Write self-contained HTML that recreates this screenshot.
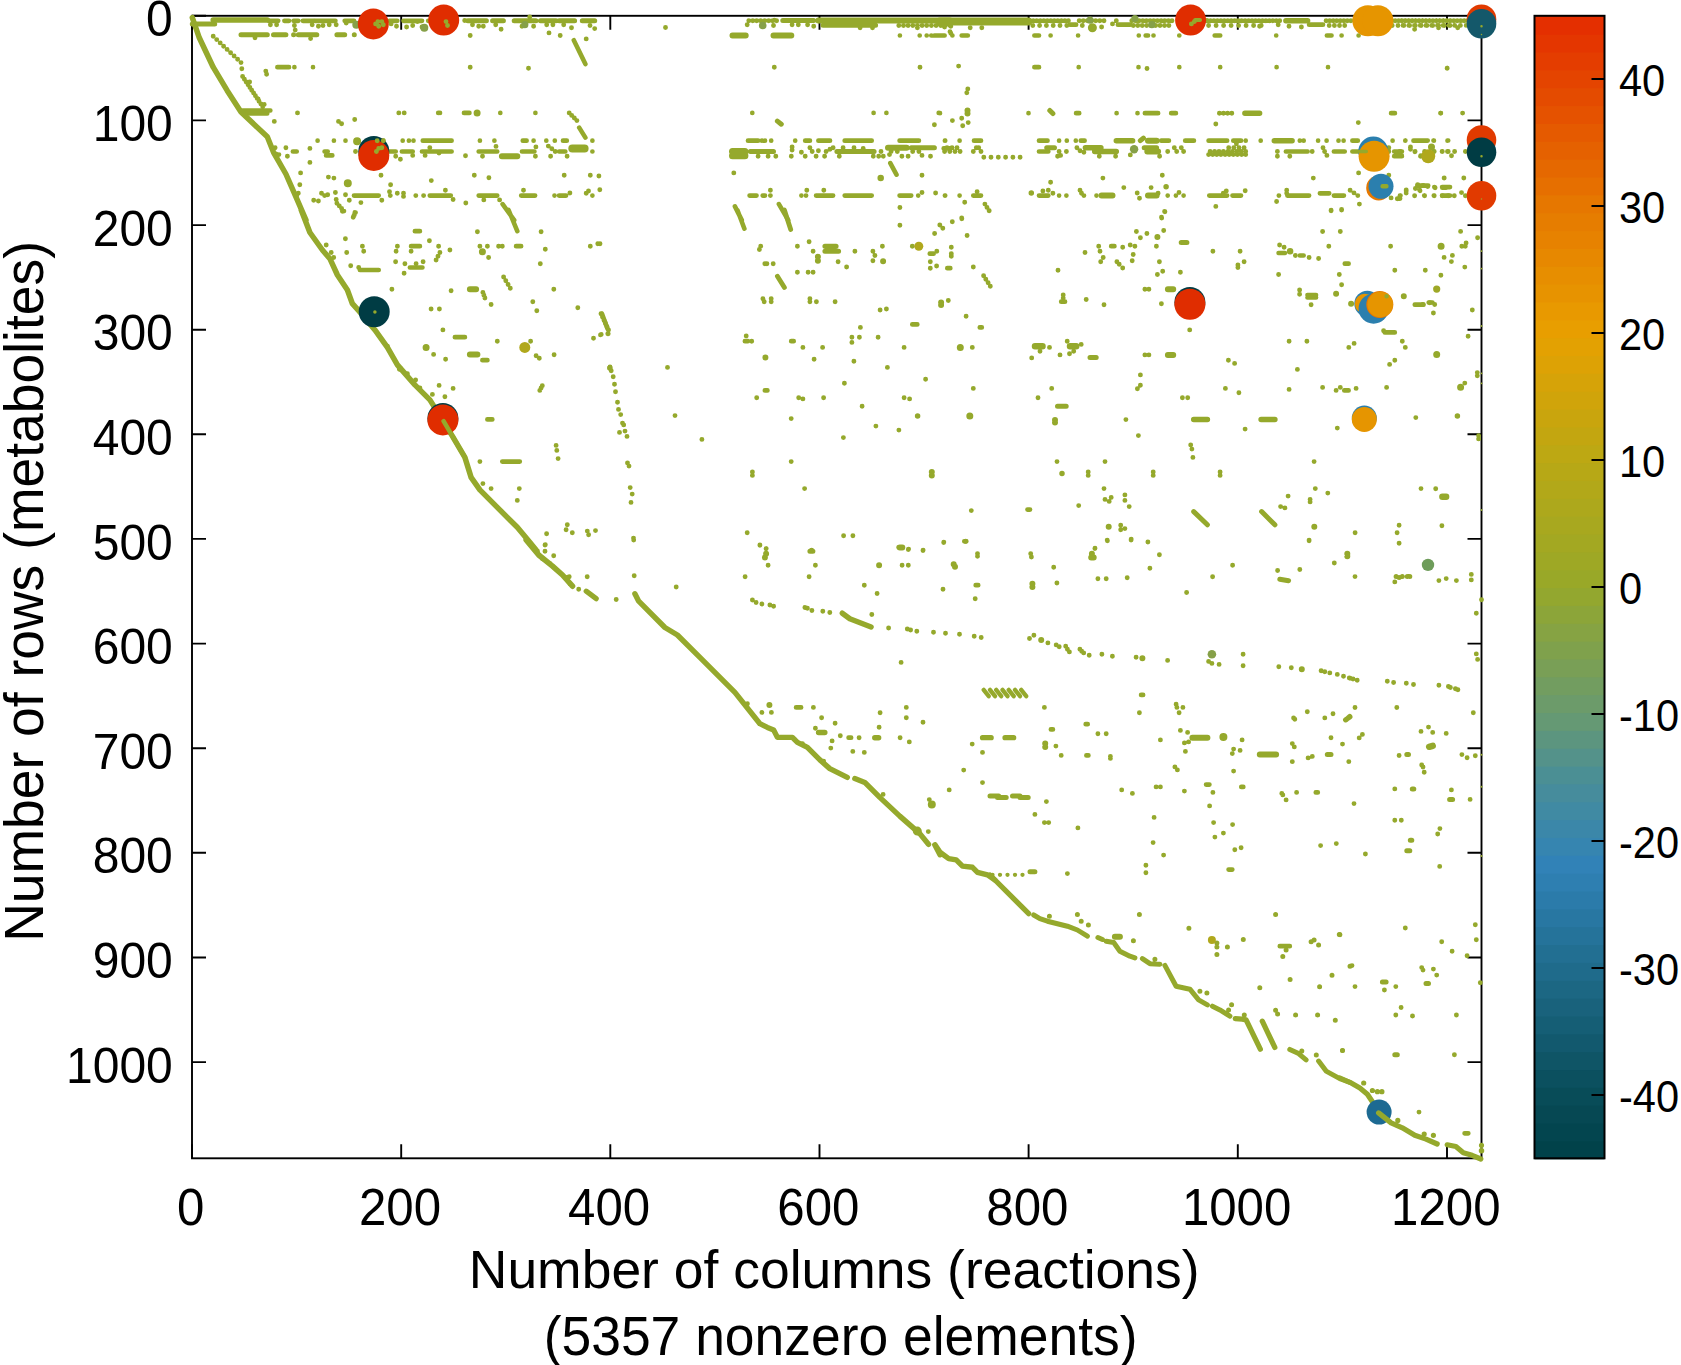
<!DOCTYPE html>
<html><head><meta charset="utf-8"><title>Sparsity pattern</title>
<style>html,body{margin:0;padding:0;background:#fff}svg{display:block}</style></head>
<body>
<svg width="1681" height="1365" viewBox="0 0 1681 1365">
<rect width="1681" height="1365" fill="#fff"/>
<rect x="1534.5" y="1140.45" width="70.0" height="18.85" fill="#01424a"/>
<rect x="1534.5" y="1122.60" width="70.0" height="18.85" fill="#03454f"/>
<rect x="1534.5" y="1104.75" width="70.0" height="18.85" fill="#064853"/>
<rect x="1534.5" y="1086.89" width="70.0" height="18.85" fill="#084c58"/>
<rect x="1534.5" y="1069.04" width="70.0" height="18.85" fill="#0b505f"/>
<rect x="1534.5" y="1051.19" width="70.0" height="18.85" fill="#0f5566"/>
<rect x="1534.5" y="1033.34" width="70.0" height="18.85" fill="#12596e"/>
<rect x="1534.5" y="1015.49" width="70.0" height="18.85" fill="#155e75"/>
<rect x="1534.5" y="997.64" width="70.0" height="18.85" fill="#19627c"/>
<rect x="1534.5" y="979.78" width="70.0" height="18.85" fill="#1c6783"/>
<rect x="1534.5" y="961.93" width="70.0" height="18.85" fill="#1f6b8b"/>
<rect x="1534.5" y="944.08" width="70.0" height="18.85" fill="#226f92"/>
<rect x="1534.5" y="926.23" width="70.0" height="18.85" fill="#25739a"/>
<rect x="1534.5" y="908.38" width="70.0" height="18.85" fill="#2877a2"/>
<rect x="1534.5" y="890.53" width="70.0" height="18.85" fill="#2b7baa"/>
<rect x="1534.5" y="872.67" width="70.0" height="18.85" fill="#2e7fb1"/>
<rect x="1534.5" y="854.82" width="70.0" height="18.85" fill="#3182b7"/>
<rect x="1534.5" y="836.97" width="70.0" height="18.85" fill="#3685b0"/>
<rect x="1534.5" y="819.12" width="70.0" height="18.85" fill="#3b87a9"/>
<rect x="1534.5" y="801.27" width="70.0" height="18.85" fill="#408aa3"/>
<rect x="1534.5" y="783.42" width="70.0" height="18.85" fill="#468c9c"/>
<rect x="1534.5" y="765.57" width="70.0" height="18.85" fill="#4b8f94"/>
<rect x="1534.5" y="747.71" width="70.0" height="18.85" fill="#54928a"/>
<rect x="1534.5" y="729.86" width="70.0" height="18.85" fill="#5c957f"/>
<rect x="1534.5" y="712.01" width="70.0" height="18.85" fill="#659974"/>
<rect x="1534.5" y="694.16" width="70.0" height="18.85" fill="#6c9b6a"/>
<rect x="1534.5" y="676.31" width="70.0" height="18.85" fill="#729d60"/>
<rect x="1534.5" y="658.46" width="70.0" height="18.85" fill="#799f56"/>
<rect x="1534.5" y="640.60" width="70.0" height="18.85" fill="#7fa14c"/>
<rect x="1534.5" y="622.75" width="70.0" height="18.85" fill="#86a343"/>
<rect x="1534.5" y="604.90" width="70.0" height="18.85" fill="#8ca539"/>
<rect x="1534.5" y="587.05" width="70.0" height="18.85" fill="#93a72f"/>
<rect x="1534.5" y="569.20" width="70.0" height="18.85" fill="#99a828"/>
<rect x="1534.5" y="551.35" width="70.0" height="18.85" fill="#9ea825"/>
<rect x="1534.5" y="533.50" width="70.0" height="18.85" fill="#a3a822"/>
<rect x="1534.5" y="515.64" width="70.0" height="18.85" fill="#a8a81f"/>
<rect x="1534.5" y="497.79" width="70.0" height="18.85" fill="#ada81c"/>
<rect x="1534.5" y="479.94" width="70.0" height="18.85" fill="#b2a819"/>
<rect x="1534.5" y="462.09" width="70.0" height="18.85" fill="#b7a816"/>
<rect x="1534.5" y="444.24" width="70.0" height="18.85" fill="#bda813"/>
<rect x="1534.5" y="426.39" width="70.0" height="18.85" fill="#c3a610"/>
<rect x="1534.5" y="408.53" width="70.0" height="18.85" fill="#c9a50d"/>
<rect x="1534.5" y="390.68" width="70.0" height="18.85" fill="#d0a40a"/>
<rect x="1534.5" y="372.83" width="70.0" height="18.85" fill="#d6a308"/>
<rect x="1534.5" y="354.98" width="70.0" height="18.85" fill="#dda205"/>
<rect x="1534.5" y="337.13" width="70.0" height="18.85" fill="#e3a102"/>
<rect x="1534.5" y="319.28" width="70.0" height="18.85" fill="#e89e00"/>
<rect x="1534.5" y="301.42" width="70.0" height="18.85" fill="#e89900"/>
<rect x="1534.5" y="283.57" width="70.0" height="18.85" fill="#e79300"/>
<rect x="1534.5" y="265.72" width="70.0" height="18.85" fill="#e78e00"/>
<rect x="1534.5" y="247.87" width="70.0" height="18.85" fill="#e78800"/>
<rect x="1534.5" y="230.02" width="70.0" height="18.85" fill="#e78200"/>
<rect x="1534.5" y="212.17" width="70.0" height="18.85" fill="#e67d00"/>
<rect x="1534.5" y="194.32" width="70.0" height="18.85" fill="#e67700"/>
<rect x="1534.5" y="176.46" width="70.0" height="18.85" fill="#e66f00"/>
<rect x="1534.5" y="158.61" width="70.0" height="18.85" fill="#e56800"/>
<rect x="1534.5" y="140.76" width="70.0" height="18.85" fill="#e56100"/>
<rect x="1534.5" y="122.91" width="70.0" height="18.85" fill="#e55a00"/>
<rect x="1534.5" y="105.06" width="70.0" height="18.85" fill="#e55200"/>
<rect x="1534.5" y="87.21" width="70.0" height="18.85" fill="#e44b00"/>
<rect x="1534.5" y="69.35" width="70.0" height="18.85" fill="#e44400"/>
<rect x="1534.5" y="51.50" width="70.0" height="18.85" fill="#e43d00"/>
<rect x="1534.5" y="33.65" width="70.0" height="18.85" fill="#e43600"/>
<rect x="1534.5" y="15.80" width="70.0" height="18.85" fill="#e42f00"/>
<rect x="1534.5" y="15.8" width="70.0" height="1142.5" fill="none" stroke="#000" stroke-width="2"/>
<rect x="192" y="15.8" width="1289.5" height="1142.5" fill="none" stroke="#000" stroke-width="1.9"/>
<path d="M1604.5 1095.0h-13M1604.5 968.0h-13M1604.5 841.0h-13M1604.5 714.0h-13M1604.5 587.0h-13M1604.5 460.0h-13M1604.5 333.0h-13M1604.5 206.0h-13M1604.5 79.0h-13M192.0 1158.3v-14M192.0 15.8v14M401.2 1158.3v-14M401.2 15.8v14M610.3 1158.3v-14M610.3 15.8v14M819.5 1158.3v-14M819.5 15.8v14M1028.6 1158.3v-14M1028.6 15.8v14M1237.8 1158.3v-14M1237.8 15.8v14M1447.0 1158.3v-14M1447.0 15.8v14M192 15.8h14M1481.5 15.8h-14M192 120.4h14M1481.5 120.4h-14M192 225.1h14M1481.5 225.1h-14M192 329.7h14M1481.5 329.7h-14M192 434.3h14M1481.5 434.3h-14M192 538.9h14M1481.5 538.9h-14M192 643.6h14M1481.5 643.6h-14M192 748.2h14M1481.5 748.2h-14M192 852.8h14M1481.5 852.8h-14M192 957.5h14M1481.5 957.5h-14M192 1062.1h14M1481.5 1062.1h-14" stroke="#000" stroke-width="1.9" fill="none"/>
<g fill="none" stroke="#95a92c" stroke-linecap="round" stroke-linejoin="round"><path d="M1481.5 251.1h0M1481.5 268.6h0M1481.5 326h0M1481.5 373.3h0M1481.5 383.3h0M1481.5 510h0" stroke-width="1.8"/>
<path d="M1481.5 754.8h0M1481.5 786.7h0M1481.5 856h0" stroke-width="2"/>
<path d="M983.7 689.9L988.7 696.2M990 689.9L995 696.2M996.2 689.9L1001.2 696.2M1002.5 689.9L1007.5 696.2M1008.7 689.9L1013.7 696.2M1015 689.9L1020 696.2M1021.2 689.9L1026.2 696.2M992.5 874.8h0M1000 874.8h0M1007.5 874.8h0M1015 874.8h0M1022.5 874.8h0" stroke-width="4.3"/>
<path d="M242.6 110.5L270.4 110.5M242.6 113.6L267.3 113.6M1193.1 20.5L1207 20.5M1307.4 295L1316.1 295M1307.4 297.5L1316.1 297.5" stroke-width="4.5"/>
<path d="M573.8 40.2L585.4 64.1M579.2 127.6L585.4 137.6M502.6 204.1L514.2 220.1M890.3 163.1L896.5 174.7M734.9 206.4L741.8 220.1M778.9 204.1L788.2 220.1M508.6 210L517.3 231.2M737.4 210L744.4 228.7M602 313.7L607.5 328.7" stroke-width="4.6"/>
<path d="M268.9 20.8L278.2 20.8M284.4 20.8L289 20.8M293.6 20.8L298.3 20.8M302.9 20.8L313.7 20.8M315.3 20.8L335.4 20.8M344.7 20.8L354 20.8M389.5 20.8L397.3 20.8M403.5 20.8L422 20.8M428.2 20.8L450 20.8M277.4 67.2L289 67.2M294.4 67.2h0M313 67.2h0M317.6 140.7h0M333.9 140.7h0M345.5 140.7h0M377.2 140.7h0M383.3 140.7h0M402.7 140.7h0M408.9 140.7h0M413.5 140.7h0M422.8 140.7L450 140.7M292.9 151.5L296.7 151.5M324.6 151.5L327.7 151.5M389.5 151.5L395.7 151.5M401.9 151.5L412.7 151.5M422 151.5L450 151.5M326.1 155.4L332.3 155.4M354 195.6L378.7 195.6M429.8 195.6L450 195.6M440 112.9h0M464 112.9L469.4 112.9M500.3 112.9h0M535.4 112.9h0M440 140.7L451.6 140.7M479.9 140.7h0M494.4 140.7h0M522.8 140.7L526.6 140.7M533.6 140.7h0M546.3 140.7h0M554.8 140.7h0M563 140.7L566.8 140.7M592.4 140.7h0M440 151.5L451.6 151.5M478.7 151.5L497.2 151.5M522 151.5L534.4 151.5M559.1 151.5L565.3 151.5M592.4 151.5h0M440 195.6L450.8 195.6M478.7 195.6L497.2 195.6M521.2 195.6L535.1 195.6M554.5 195.6h0M559.1 195.6L566.1 195.6M592.4 195.6h0M899.9 35.5h0M919.7 35.5h0M926.7 35.5h0M931.3 35.5h0M934.4 35.5L943.7 35.5M752.3 112.9h0M873.6 112.9h0M886.4 112.9h0M938.7 112.9h0M748 140.7L758.1 140.7M761.9 140.7h0M765 140.7h0M771.2 140.7h0M795.2 140.7h0M805.2 140.7L809.9 140.7M818.4 140.7L830 140.7M844.7 140.7L871.7 140.7M899.6 140.7L918.9 140.7M945.2 140.7h0M943.7 148.4L950 148.4M749.6 195.6L756.5 195.6M762.7 195.6L765 195.6M801.4 195.6h0M816.1 195.6L833.1 195.6M844.7 195.6L871.7 195.6M899.6 195.6L911.2 195.6M918.2 195.6h0M945.2 195.6h0M1069.9 24.7L1076.1 24.7M1117.9 24.7L1130.3 24.7M940 35.5L944.6 35.5M952.4 35.5h0M961.7 35.5L967.8 35.5M1034.4 35.5L1039 35.5M1050.6 35.5h0M1078.1 35.5h0M1138.8 35.5h0M1145.7 35.5L1148 35.5M1153.5 35.5h0M1179.3 35.5h0M1034.4 67.2L1039 67.2M1078.7 67.2h0M1138.5 67.2h0M1179.3 67.2h0M940 113.2h0M1028.5 113.2h0M1076.1 113.2L1079.2 113.2M1116.6 113.2h0M1137.5 113.2h0M1144.9 113.2L1158.1 113.2M1171.2 113.2L1175.9 113.2M944.9 140.7h0M959.6 140.7h0M974 140.7L981 140.7M1039 140.7L1047.5 140.7M1059.1 140.7h0M1066.8 140.7h0M1075.8 140.7h0M1080.8 140.7L1084.6 140.7M1161.2 140.7L1168.9 140.7M1185.2 140.7L1193.7 140.7M1039 151.5L1048.3 151.5M944.9 195.6h0M959.6 195.6h0M973.3 195.6L981 195.6M1039 195.6L1048.3 195.6M1059.1 195.6h0M1066.4 195.6h0M1096.5 195.6h0M1167.7 195.6h0M1175.9 195.6h0M1183.6 195.6h0M1309.1 24.7L1323 24.7M1214.7 35.5L1220.2 35.5M1276.2 35.5h0M1326.9 35.5L1331.5 35.5M1341.6 35.5h0M1358.6 35.5h0M1220.2 67.2h0M1276.6 67.2h0M1328 67.2h0M1391.1 113.2L1394.9 113.2M1440.6 113.2h0M1190 140.7L1193.9 140.7M1208.6 140.7L1227.1 140.7M1233.3 140.7L1241 140.7M1245.7 140.7h0M1260.7 140.7h0M1299.8 140.7h0M1303.7 140.7h0M1318.1 140.7h0M1326.6 140.7h0M1338.5 140.7h0M1343.6 140.7h0M1352.4 140.7L1357.8 140.7M1392.6 140.7h0M1405.3 140.7h0M1413.5 140.7L1427.4 140.7M1433.9 140.7h0M1447.5 140.7h0M1285.9 151.5L1307.6 151.5M1333.9 151.5L1344.7 151.5M1352.4 151.5L1366.3 151.5M1394.2 151.5L1401.9 151.5M1394.2 156.2L1401.9 156.2M1209.3 195.6L1227.1 195.6M1232.5 195.6L1241 195.6M1287.4 195.6L1309.1 195.6M1333.9 195.6L1343.9 195.6M1442.1 195.6L1450 195.6M1319.9 193.3L1329.2 193.3M1417.4 185.6L1428.2 185.6M1442.1 187.1L1450 187.1M1405.4 140.5h0M1414.6 140.5h0M1420 140.5L1427.7 140.5M1433.5 140.5h0M1448.2 140.5h0M1442.3 187.7L1446.2 187.7M414.9 231.2L419.9 231.2M411.1 246.2L419.9 246.2M516.1 246.2L521.1 246.2M359.9 270L378.7 270M409.9 267.5L422.4 267.5M454.9 337.2L464.9 337.2M482.4 360.2L487.4 360.2M487.4 419.4L492.3 419.4M502.3 461.6L519.8 461.6M929.8 253.7L933.6 253.7M947.3 268.2L950.3 268.2M912.3 324.4L917.3 324.4M979.8 327.4L981.8 327.4M744.9 341.2L747.9 341.2M791.2 341.2L793.7 341.2M764.9 390.4L767.4 390.4M898.6 547.3L902.3 547.3M964.3 541.3L966.3 541.3M1344.3 390.4L1348.6 390.4M1344.8 263.7L1348.6 263.7M1384.8 332.4L1394.8 332.4M1111.2 246.2L1114.4 246.2M1278.6 253L1284.9 253M1299.9 255.5L1303.6 255.5M1061.2 301.7L1065 301.7M1414.8 304.7L1423.5 304.7M1027.5 509.6L1030 509.6M1428.7 302.5L1432.4 302.5M796.1 707.4L801.1 707.4M848.6 737.7L851.1 737.7M1228.6 869.6L1232.3 869.6M975.7 585.2L978.2 585.2M1141.1 694.9L1143.1 694.9M1050.9 729.4L1052.9 729.4M1085.7 724.2L1087.7 724.2M1086.4 755.4L1088.4 755.4M1206.1 784.6L1209.4 784.6M1241.3 786.9L1243.3 786.9M1315.8 792.4L1317.8 792.4M1279.8 946.2L1289.8 946.2M1464.6 1133.3L1468.3 1133.3" stroke-width="4.7"/>
<path d="M784.4 210L790.7 229.5M777.4 276.2L784.4 287.5" stroke-width="4.8"/>
<path d="M270.4 24.7h0M276.6 24.7h0M312.2 24.7h0M318.4 26.2h0M323 25.5h0M329.2 24.7h0M336.2 24.7h0M346.2 23.1h0M356.3 24.7h0M391.1 23.9h0M396.5 26.2h0M406.6 27h0M412.7 25.5h0M417.4 21.6h0M422 27h0M255 37.8h0M310.6 38.6h0M294.4 25.5h0M295.2 30.1h0M213.2 36.3h0M216.7 39.6h0M220.2 42.9h0M223.6 46.2h0M227.1 49.4h0M230.6 52.7h0M234.1 56h0M237.6 59.3h0M241 62.6h0M241.8 68.8h0M242.6 76.5h0M244.4 79.3h0M246.2 82h0M248.1 84.7h0M249.9 87.5h0M251.7 90.2h0M253.6 93h0M255.4 95.7h0M257.2 98.4h0M259 101.2h0M260.9 103.9h0M262.7 106.7h0M249.6 81.9h0M258.1 98.9h0M264.2 104.4h0M297.5 112.9h0M274.3 121.4h0M398.8 112.9h0M404.2 112.9h0M438.3 112.9h0M338.5 121.4h0M341.6 123.7h0M354.7 119.5h0M265.8 71.1h0M266.6 74.2h0M275.1 147.7h0M275.8 153.9h0M285.9 147.7h0M287.4 156.2h0M309.9 148.4h0M309.9 162.4h0M355.5 151.5h0M395.7 156.2h0M400.4 159.3h0M278.9 154.6h0M412.7 155.4h0M425.1 155.4h0M439 153.1h0M429.8 147.7h0M313.7 200.3h0M318.4 201h0M321.5 193.3h0M324.6 195.6h0M327.7 194.8h0M335.4 192.5h0M336.2 199.5h0M345.5 194.8h0M349.3 200.3h0M360.9 202.6h0M381.8 200.3h0M389.5 191.7h0M390.3 195.6h0M397.3 193.3h0M403.5 193.3h0M403.5 196.4h0M415.8 195.6h0M423.6 195.6h0M300.6 172.9h0M299.8 184.8h0M328.4 177.1h0M333.9 178.1h0M381 175.2h0M390.6 184.8h0M431.3 180.6h0M298.3 193.3h0M296.7 195.6h0M336.9 203.3h0M339.3 205.9h0M341.6 208.5h0M343.9 211.1h0M355.5 212.6h0M354.3 214.9h0M353.2 217.3h0M464.7 20.5h0M478.7 26.2h0M483.3 26.2h0M501.1 29.3h0M522 26.2h0M533.6 26.2h0M571.5 27.8h0M590 25.5h0M594.7 28.6h0M472.5 24.7h0M495.7 24.7h0M546.7 24.7h0M552.9 24.7h0M563.7 24.7h0M529.7 17h0M470.2 35.5h0M549 32.9h0M560.2 35.5h0M586.2 38.9h0M665.5 27.5h0M470.2 67.2h0M528.5 68.3h0M569.2 112.9h0M571.7 115.4h0M574.3 118h0M576.9 120.6h0M465.5 155.7h0M482.5 156.2h0M496 146.4h0M535.9 146.9h0M535.4 156.2h0M550.6 156.2h0M567.1 156.2h0M548.3 146.1h0M551.8 148.8h0M555.2 151.5h0M474.3 175.2h0M488.9 177.8h0M564.2 175.2h0M590.3 175.2h0M598.9 176h0M445.4 190.2h0M453.1 199.5h0M465.8 203h0M483.8 199.9h0M499.6 199.9h0M523.5 190.2h0M569.9 193h0M588.5 191h0M586.2 193.3h0M599.8 189.7h0M748.8 20.8h0M752.8 20.8h0M756.7 20.8h0M760.7 20.8h0M764.7 20.8h0M768.7 20.8h0M772.6 20.8h0M776.6 20.8h0M747.2 24.7h0M773.5 25.5h0M774.3 20.1h0M898.8 25.5h0M903.5 25.5h0M908.1 25.5h0M912.8 25.5h0M917.4 25.5h0M922.1 25.5h0M926.7 25.5h0M931.4 25.5h0M936.1 25.5h0M940.7 25.5h0M945.4 25.5h0M950 25.5h0M792.1 24.7h0M798.3 24.7h0M807.6 24.7h0M813.7 26.2h0M917.4 27.8h0M872.5 27.8h0M860.1 27.8h0M950 31.7h0M774.3 67.2h0M920 67.2h0M934.4 124.8h0M758.1 156.2h0M768.1 156.2h0M775.8 156.2h0M792.1 146.9h0M792.1 150h0M791.3 156.2h0M801.4 152.3h0M805.2 156.2h0M809.9 147.7h0M812.2 151.5h0M816.1 156.2h0M818.4 150.8h0M824.6 156.2h0M826.1 151.5h0M830 149.2h0M833.1 147.7h0M839.3 156.2h0M873.3 156.2h0M843.1 147.7h0M878.7 156.2h0M881 151.5h0M883.3 156.2h0M889.5 154.6h0M901.9 156.2h0M908.1 156.2h0M922 155.4h0M930.5 156.2h0M891.1 151.5h0M897.3 151.5h0M912.7 151.5h0M918.9 151.5h0M854 147.7h0M863.2 148.4h0M733.8 172.9h0M922 175.2h0M770.4 190.2h0M770.4 195.6h0M806.8 190.2h0M806 195.6h0M823.8 190.2h0M922 192.5h0M935.6 193h0M899.9 207.5h0M1029.7 20.8h0M1033.2 20.8h0M1036.7 20.8h0M1040.3 20.8h0M1043.8 20.8h0M1047.3 20.8h0M1050.8 20.8h0M1054.3 20.8h0M1057.8 20.8h0M1061.4 20.8h0M1064.9 20.8h0M1068.4 20.8h0M1032.8 25.5h0M1039.6 25.5h0M1046.4 25.5h0M1053.2 25.5h0M1060 25.5h0M1066.8 25.5h0M1079.2 20.8h0M1083.3 20.8h0M1087.5 20.8h0M1091.6 20.8h0M1095.7 20.8h0M1099.8 20.8h0M1104 20.8h0M1082.3 25.5h0M1101.6 27h0M1112.5 23.9h0M1116.3 20.8h0M1131.8 20.8h0M1135.5 20.8h0M1139.1 20.8h0M1142.8 20.8h0M1146.4 20.8h0M1150.1 20.8h0M1153.7 20.8h0M1157.4 20.8h0M1161.1 20.8h0M1164.7 20.8h0M1168.4 20.8h0M1172 20.8h0M1133.3 25.5h0M1137.8 25.5h0M1142.2 25.5h0M1146.7 25.5h0M1151.1 25.5h0M1155.6 25.5h0M1160 25.5h0M1164.5 25.5h0M1168.9 25.5h0M944.6 27h0M950.8 26.2h0M970.2 27.8h0M981.8 27.8h0M950.8 33.2h0M958.6 66.1h0M1147 68.5h0M967.8 88.9h0M966.8 92.8h0M952.4 120.6h0M961.7 118.3h0M968.2 122.6h0M962.7 125.7h0M944.6 151.5h0M949.8 151.5h0M955 151.5h0M960.1 151.5h0M947 147.7h0M952 147.7h0M957 147.7h0M973.3 151.5h0M981 151.5h0M976.3 147.7h0M978.7 147.7h0M983.8 157.3h0M991 157.3h0M998.3 157.3h0M1005.6 157.3h0M1012.9 157.3h0M1020.1 157.3h0M1059.1 151.5h0M1057.6 156.2h0M1060.6 155.4h0M1066.4 151.5h0M1076.9 147.7h0M1080 150.8h0M1083.9 152.3h0M1099.3 156.2h0M1115.6 156.2h0M1130.3 154.9h0M1159.6 156.2h0M1167.7 151.5h0M1174.3 147.7h0M1176.7 151.5h0M1181.3 147.7h0M1183.6 151.5h0M1102.9 178.1h0M1050.6 182.2h0M1162.3 175.2h0M1123.8 187.6h0M1151.1 187.6h0M977.1 191.7h0M1042.9 191h0M1048.3 190.2h0M1052.9 193.3h0M1080 190.2h0M1081.5 193.3h0M1083.9 195.6h0M1137.2 193h0M1139.5 198.2h0M1158.1 193.3h0M1179 192.5h0M964.7 202.3h0M961.7 218h0M1164.6 211.5h0M1161.5 217.3h0M984.9 204.1h0M987 207.4h0M989.2 210.8h0M1207 20.8h0M1210.5 20.8h0M1213.9 20.8h0M1217.4 20.8h0M1220.9 20.8h0M1224.3 20.8h0M1227.8 20.8h0M1231.2 20.8h0M1234.7 20.8h0M1238.2 20.8h0M1241.6 20.8h0M1245.1 20.8h0M1248.6 20.8h0M1252 20.8h0M1255.5 20.8h0M1258.9 20.8h0M1262.4 20.8h0M1265.9 20.8h0M1269.3 20.8h0M1272.8 20.8h0M1276.3 20.8h0M1279.7 20.8h0M1208.6 25.5h0M1216.1 25.5h0M1223.6 25.5h0M1231.1 25.5h0M1238.6 25.5h0M1246.1 25.5h0M1253.6 25.5h0M1261.2 25.5h0M1326.1 20.8h0M1329.7 20.8h0M1333.2 20.8h0M1336.7 20.8h0M1340.3 20.8h0M1343.8 20.8h0M1347.3 20.8h0M1350.9 20.8h0M1329.2 25.5h0M1334.4 25.5h0M1339.5 25.5h0M1344.7 25.5h0M1278.2 24.7h0M1289 26.2h0M1301.4 27h0M1259.6 26.2h0M1384.9 20.8h0M1388.3 20.8h0M1391.8 20.8h0M1395.2 20.8h0M1398.6 20.8h0M1402 20.8h0M1405.5 20.8h0M1408.9 20.8h0M1412.3 20.8h0M1415.7 20.8h0M1419.2 20.8h0M1422.6 20.8h0M1426 20.8h0M1429.5 20.8h0M1432.9 20.8h0M1436.3 20.8h0M1439.7 20.8h0M1443.2 20.8h0M1446.6 20.8h0M1450 20.8h0M1386.4 25.5h0M1392.2 25.5h0M1398 25.5h0M1403.8 25.5h0M1409.6 25.5h0M1415.3 25.5h0M1421.1 25.5h0M1426.9 25.5h0M1432.7 25.5h0M1438.5 25.5h0M1444.2 25.5h0M1450 25.5h0M1447.1 68.3h0M1219.4 113.2h0M1223.5 113.2h0M1227.6 113.2h0M1231.8 113.2h0M1215.8 124h0M1358.3 122.6h0M1236.4 143.8h0M1208.6 154.6h0M1212.7 154.6h0M1216.8 154.6h0M1220.9 154.6h0M1225.1 154.6h0M1229.2 154.6h0M1233.3 154.6h0M1237.4 154.6h0M1241.6 154.6h0M1245.7 154.6h0M1210.1 151.5h0M1214.6 151.5h0M1219 151.5h0M1223.4 151.5h0M1227.9 151.5h0M1232.3 151.5h0M1236.8 151.5h0M1241.2 151.5h0M1245.7 151.5h0M1228.7 147.7h0M1233.8 147.7h0M1239 147.7h0M1244.1 147.7h0M1277.4 151.5h0M1277.4 156.2h0M1289.8 156.2h0M1312.2 151.5h0M1323 147.7h0M1324.6 151.5h0M1326.9 155.4h0M1388.8 147.7h0M1388.8 151.5h0M1410.4 147.7h0M1415.1 151.5h0M1420.5 156.2h0M1431.3 146.9h0M1433.6 151.5h0M1442.1 151.5h0M1447.5 151.5h0M1358.6 172.9h0M1313.3 178.1h0M1388.8 175.2h0M1444.1 178.1h0M1226.3 191h0M1223.3 193.3h0M1245.2 190.7h0M1278.9 195.6h0M1276.6 201.5h0M1286.7 190.2h0M1286.7 193.3h0M1350.1 190.2h0M1354 192.9h0M1357.8 195.6h0M1391.1 197.9h0M1397.3 198.7h0M1400.4 195.6h0M1406.2 191h0M1414.6 195.6h0M1419.7 190.2h0M1424.3 195.6h0M1434.4 187.1h0M1433.9 195.6h0M1215.8 206.4h0M1359.4 204.1h0M1331.1 210.3h0M1341.6 209.5h0M1401.5 20.8h0M1405 20.8h0M1408.5 20.8h0M1412 20.8h0M1415.5 20.8h0M1418.9 20.8h0M1422.4 20.8h0M1425.9 20.8h0M1429.4 20.8h0M1432.9 20.8h0M1436.4 20.8h0M1439.8 20.8h0M1443.3 20.8h0M1446.8 20.8h0M1450.3 20.8h0M1453.8 20.8h0M1457.2 20.8h0M1460.7 20.8h0M1464.2 20.8h0M1467.7 20.8h0M1403.1 25.4h0M1408.8 25.4h0M1414.5 25.4h0M1420.3 25.4h0M1426 25.4h0M1431.7 25.4h0M1437.5 25.4h0M1443.2 25.4h0M1449 25.4h0M1454.7 25.4h0M1460.4 25.4h0M1466.2 25.4h0M1414.6 29.2h0M1438.5 27.7h0M1457.7 27.7h0M1447.2 68.2h0M1440.8 113.1h0M1462.6 113.1h0M1400 151.5h0M1401.5 155.4h0M1410.5 146.9h0M1410.5 149.2h0M1414.9 151.8h0M1420.8 155.8h0M1424.6 151.5h0M1434.2 151.5h0M1442.3 151.5h0M1448.2 151.5h0M1451.5 155.8h0M1454.6 151.5h0M1465.4 151.5h0M1444.2 178h0M1463.8 178h0M1406.2 190h0M1406.2 193.1h0M1415.4 188.5h0M1417.7 184.6h0M1423.1 185.4h0M1420 190.8h0M1427.7 186.6h0M1435.1 187.7h0M1400 195.8h0M1400 198.5h0M1414.6 195.8h0M1424.6 195.8h0M1434.2 195.8h0M1442.3 195.8h0M1448.2 195.8h0M1454.3 195.8h0M1461.5 192.6h0M1465.4 195.8h0M601 313.7h0M602.5 316.9h0M604 320.2h0M605.5 323.4h0M607 326.7h0M608.5 329.9h0M342.4 211.2h0M353.7 216.2h0M354.9 212.5h0M477.4 231.7h0M541.1 231.7h0M345.4 238.7h0M429.4 240.7h0M597.8 243.7h0M590.3 246.2h0M362.4 246.2h0M363.7 251.2h0M346.7 252.5h0M397.4 246.2h0M396.1 251.2h0M411.1 251.2h0M438.6 246.2h0M449.9 250h0M479.9 246.2h0M487.4 246.2h0M488.6 257.5h0M498.6 246.2h0M502.3 246.2h0M545.3 249.2h0M540.3 263.7h0M439.9 252.5h0M438 256.2h0M436.1 260h0M350.7 265.7h0M358.7 267.5h0M395.6 261.7h0M404.9 263.7h0M404.1 273.2h0M416.1 263.7h0M423.1 261.7h0M503.6 277h0M505.8 280.7h0M508.1 284.5h0M510.3 288.2h0M391.9 289.2h0M451.1 290.7h0M491.1 304.5h0M553.8 289.2h0M532.8 301.7h0M536.8 310.7h0M577.8 307.7h0M482.9 292.5h0M483.9 295.2h0M484.9 298h0M431.1 309h0M439.4 309h0M442.9 329.9h0M497.3 341.2h0M530.6 341.2h0M433.6 354.4h0M445.6 359.2h0M536.1 355.7h0M539.3 358.2h0M554.1 354.7h0M593.5 338.2h0M600.5 334.9h0M607.8 333.7h0M439.1 385.4h0M453.1 388.4h0M444.9 396.7h0M542.3 385.7h0M541.1 388h0M539.8 390.4h0M556.1 445.4h0M556.8 450.4h0M558.1 458.6h0M479.9 461.6h0M482.9 483.6h0M491.1 488.6h0M519.3 488.6h0M517.3 500.4h0M567.3 524.8h0M566.1 529.8h0M572.3 532.8h0M587.3 531.1h0M588.6 534.8h0M595.5 530.6h0M546.6 533.8h0M545.3 544.8h0M326.2 245h0M331.2 252.5h0M333.7 257.5h0M387.4 346.2h0M407.4 373.7h0M415.6 379.9h0M419.9 387.9h0M432.4 394.4h0M983.6 275.7h0M985.8 279.2h0M988.1 282.7h0M990.3 286.2h0M610 366.9h0M611.2 370.7h0M613.2 376.7h0M614.5 384.2h0M615.5 391.7h0M617.5 402.2h0M618.5 409.4h0M620.7 414.6h0M622.5 423.1h0M623.7 424.9h0M625 431.1h0M627 436.4h0M627.5 462.9h0M629 466.1h0M630.2 487.6h0M632.2 494.1h0M631 502.4h0M633.5 538.1h0M600 243.7h0M601.2 334.4h0M608.2 333.7h0M619.5 432.4h0M989.1 210.7h0M961.8 218.7h0M952.3 221.7h0M939.8 225h0M942.8 228.2h0M899.9 225.2h0M934.6 233.5h0M967.1 235.5h0M760.7 246.2h0M759.4 249.5h0M797.4 246.2h0M809.1 241.7h0M813.1 251.2h0M838.1 261.7h0M846.6 267h0M854.9 251.2h0M872.9 251.2h0M874.9 255.5h0M872.9 260.7h0M882.4 246.2h0M912.3 246.2h0M936.8 251.2h0M951.3 247.2h0M951.3 253.7h0M951.3 256.2h0M930.3 261.7h0M930.3 268.2h0M936.6 266h0M973.3 267h0M764.9 263.7h0M766.9 263.7h0M773.2 263.7h0M797.4 272.2h0M808.1 272.2h0M813.1 272.2h0M762.9 298.7h0M764.2 301.7h0M771.2 298.7h0M771.2 301.7h0M809.9 298.7h0M809.9 301.7h0M816.4 301.7h0M835.1 301.7h0M880.1 310h0M886.4 309h0M948.3 300.5h0M966.1 316.2h0M860.4 327.4h0M746.2 335.9h0M751.7 341.2h0M802.9 347.4h0M822.6 347.4h0M851.9 337.2h0M851.9 342.4h0M859.4 337.2h0M878.1 337.2h0M904.1 347.4h0M972.3 347.4h0M814.1 359.2h0M853.9 361.2h0M667.5 367.4h0M887.4 367.4h0M925.6 379.2h0M844.4 383.2h0M973.3 388.4h0M756.7 397.7h0M798.7 397.7h0M802.9 398.9h0M823.6 397.7h0M904.1 397.7h0M909.6 398.9h0M862.1 406.2h0M675 415.6h0M791.2 418.6h0M875.9 426.1h0M898.9 430.1h0M843.4 437.6h0M701.9 439.4h0M791.2 461.6h0M752.4 471.9h0M752.4 475.4h0M804.6 488.6h0M971.3 510.6h0M747.2 532.8h0M843.6 535.8h0M852.9 535.8h0M759.9 545.3h0M766.2 548.6h0M811.6 550.1h0M908.6 549.1h0M923.1 550.1h0M943.8 542.1h0M1383.6 330.7h0M1164.9 211.7h0M1161.7 218h0M1331.1 210.7h0M1341.6 210h0M1136.4 231.5h0M1146.9 233.5h0M1140.4 237.7h0M1163.7 230.5h0M1322.6 231.5h0M1340.3 231.5h0M1098.7 246.2h0M1100 251.2h0M1085 252.5h0M1103.2 257.5h0M1100.7 261.7h0M1122.7 247.2h0M1130.2 245h0M1134.9 246.2h0M1133.2 254.5h0M1132.2 260.7h0M1116.9 261.7h0M1119.2 264.2h0M1122.7 268h0M1156.4 246.2h0M1159.4 261.7h0M1162.7 271.2h0M1157.4 274.5h0M1180.4 272.2h0M1058 270.2h0M1212.9 251.2h0M1240.1 251.2h0M1244.1 261.7h0M1237.9 265h0M1237.9 267.5h0M1279.6 245h0M1284.1 247.2h0M1295.4 255.5h0M1309.1 257.5h0M1318.6 258.5h0M1328.8 246.2h0M1278.6 274.5h0M1339.3 274.5h0M1341.6 284.7h0M1390.6 246.2h0M1394.8 270.2h0M1425.3 270.2h0M1063.2 295h0M1063.2 298h0M1086.2 299.5h0M1104 304.7h0M1144.9 289.2h0M1148.9 289.2h0M1161.4 303.7h0M1299.6 290h0M1299.6 294.2h0M1311.1 304.7h0M1429.8 302.7h0M1189.7 329.9h0M1289.1 341.2h0M1306.9 341.2h0M1354.1 343.4h0M1348.8 347.4h0M1402.3 341.2h0M1405.3 347.4h0M1040 351.2h0M1049.5 347.4h0M1031.7 357.9h0M1067.2 341.2h0M1073.7 351.2h0M1081.2 344.4h0M1060 354.9h0M1069.5 353.7h0M1144.9 354.9h0M1148.9 354.9h0M1228.4 360.2h0M1234.6 363.4h0M1297.4 369.4h0M1394.8 360.2h0M1389.6 364.4h0M1140.4 374.9h0M1140.4 385.2h0M1137.4 388.7h0M1051.7 388.4h0M1038 397.7h0M1225.4 388.4h0M1238.9 392.7h0M1182.4 397.7h0M1187.7 397.7h0M1289.1 389.4h0M1322.6 387.4h0M1336.1 390.4h0M1340.3 387.4h0M1356.1 388.4h0M1386.6 387.4h0M1125.9 419.6h0M1245.1 429.1h0M1337.3 428.1h0M1415.8 417.6h0M1138.4 435.6h0M1190.7 444.9h0M1191.9 449.1h0M1192.9 457.4h0M1057 461.6h0M1105 461.6h0M1314.1 461.6h0M1088.2 471.9h0M1088.2 475.4h0M1153.2 471.9h0M1153.2 475.4h0M1220.1 471.9h0M1220.1 475.4h0M1104 488.6h0M1111.2 497.4h0M1109.2 501.4h0M1105 499.4h0M1124.9 494.9h0M1124.9 500.4h0M1129.2 506.6h0M1078.7 505.6h0M1315.3 488.6h0M1327.8 493.1h0M1288.1 496.1h0M1310.1 499.4h0M1310.1 501.9h0M1280.6 506.6h0M1284.9 507.9h0M1421 488.6h0M1120.7 525.3h0M1120.7 529.8h0M1124.9 528.6h0M1107.2 540.1h0M1131.2 539.1h0M1147.9 542.1h0M1095 548.3h0M1309.1 540.1h0M1355.1 532.8h0M1399.1 525.3h0M1397.1 532.8h0M1399.1 543.1h0M1460.6 231.4h0M1477.6 237.7h0M1461.8 246.2h0M1465.3 246.2h0M1466.1 242.9h0M1444.1 257.4h0M1452.4 255.4h0M1451.4 261.6h0M1464.8 267.1h0M1440.9 275.3h0M1422.9 304.5h0M1434.7 304.5h0M1433.4 313h0M1472.3 310h0M1468.1 336.2h0M1477.3 372.6h0M1477.3 375.8h0M1464.8 383.1h0M1478.6 435.7h0M1478.6 438.9h0M1435.7 488.8h0M1441.9 525.7h0M578.7 589.2h0M616.2 599.5h0M752.4 600h0M756.1 602.5h0M761.9 604h0M769.9 605h0M773.6 606.2h0M804.9 607.5h0M807.4 608.2h0M811.9 610.5h0M822.8 611.2h0M829.8 612.5h0M888.6 628h0M907.3 629h0M910.6 630h0M916.8 631.2h0M933.5 632.2h0M545 545h0M545 551.2h0M553.7 555.7h0M569.2 576.7h0M587.2 576.7h0M634.2 575.7h0M676.2 587h0M633.7 540h0M759.9 545h0M766.1 548.7h0M768.1 565.2h0M745.1 576.7h0M815.4 565.2h0M809.1 576.7h0M908.3 549.5h0M923 550.5h0M902.1 565.2h0M908.3 565.2h0M864.3 585.2h0M877.1 593.5h0M871.8 614.5h0M901.1 662.4h0M761.9 712.4h0M771.4 712.4h0M813.4 707.4h0M821.6 717.7h0M835.1 723.2h0M815.4 728.2h0M840.3 735.7h0M832.1 740.9h0M830.8 748.1h0M859.1 737.7h0M852.8 751.4h0M864.3 752.4h0M879.1 727.2h0M880.1 712.7h0M906.3 707.4h0M906.3 717.7h0M900.1 737.7h0M909.3 741.9h0M923 722.2h0M883.1 794.4h0M929.3 799.6h0M928.3 831.6h0M537.5 551.2h0M542.5 558.7h0M550 563.7h0M566.2 577.5h0M570 583.7h0M747.4 703.7h0M794.9 739.9h0M802.4 743.6h0M823.6 761.1h0M933.5 632.2h0M945.5 633.2h0M959.5 634.2h0M974.2 636.2h0M981.2 637.5h0M1029.5 638.5h0M1033.9 635.2h0M1047.9 642.9h0M1056.2 644.9h0M1059.2 646.7h0M1065.7 646.2h0M1067.4 649.2h0M1069.4 651.9h0M1079.9 649.2h0M1081.7 651.2h0M1083.7 652.9h0M1089.2 655.2h0M1101.9 654.2h0M1112.4 656.2h0M1136.1 657.2h0M1167.6 660.4h0M1208.6 661.4h0M1211.9 663.4h0M1219.1 664.4h0M1243.1 654.2h0M1243.1 665.7h0M1278.8 666.7h0M1291.3 667.7h0M1321.1 670.7h0M1324.8 671.7h0M1329.8 672.9h0M1337.3 674.4h0M1343.5 676.2h0M1349.3 677.9h0M943.7 542.5h0M965.7 541.2h0M977.5 553.7h0M977.5 556.2h0M943 589.2h0M975.2 598.7h0M1030.7 553.7h0M1031.4 557h0M1053.7 567.2h0M1056.9 583h0M1094.9 548.5h0M1097.9 578.7h0M1106.2 578.7h0M1107.4 540.7h0M1127.2 577.7h0M1131.1 540h0M1147.9 542h0M1159.4 554.7h0M1149.9 568.2h0M1186.6 592.5h0M1212.6 576.7h0M1232.6 565.2h0M1277.6 570.5h0M1299.8 569.5h0M1309.1 540.7h0M1334.3 563h0M1139.4 712.7h0M1044.4 707.4h0M1176.1 704.2h0M1176.9 707.4h0M1182.9 707.4h0M1179.1 712.7h0M1307.3 711.7h0M1293.6 717.9h0M1294.8 719.2h0M1324.8 717.9h0M1333 713.7h0M1097.9 733.7h0M1106.2 733.7h0M1180.4 730.4h0M1187.6 732.4h0M972.2 744.1h0M982.5 752.4h0M1055.9 746.1h0M1061.2 755.4h0M1110.4 756.4h0M1110.4 758.4h0M1160.4 739.9h0M1184.4 742.9h0M1188.6 741.9h0M1185.4 751.4h0M1242.1 739.9h0M1233.6 749.1h0M1240.1 750.4h0M1232.3 753.6h0M1292.3 743.6h0M1294.3 746.9h0M1331 737.7h0M1342.5 744.1h0M1292.3 761.6h0M1308.1 757.9h0M1312.3 756.4h0M1348.8 761.6h0M1174.9 766.9h0M1177.4 769.9h0M1233.6 771.1h0M963.7 770.1h0M982.5 782.6h0M949.2 789.9h0M1121.7 789.9h0M1132.4 793.4h0M1156.1 786.9h0M1160.4 786.9h0M1184.4 791.1h0M1212.9 792.4h0M1281.8 793.4h0M1282.8 794.9h0M1286.1 799.9h0M1296.6 792.4h0M1046.4 801.6h0M1034.9 814.4h0M1044.4 822.6h0M1048.7 822.6h0M1077.9 827.9h0M1154.1 817.4h0M1209.6 805.9h0M1213.6 822.6h0M1232.6 824.6h0M1223.4 833.1h0M1214.9 837.1h0M1153.1 842.6h0M1163.6 855.1h0M1241.1 847.8h0M1234.8 849.8h0M1320.6 845.6h0M1336.3 843.6h0M1145.9 865.3h0M1145.9 872.8h0M1067.4 873.6h0M1399.1 543.2h0M1355 576.6h0M1394.8 581.9h0M1438.9 580.6h0M1446.2 578.6h0M1456.4 580.6h0M1471.3 574.4h0M1471.3 579.9h0M1481.5 599.8h0M1476.3 613.3h0M1476.3 653.9h0M1477.6 659.4h0M1350 678.3h0M1353 679h0M1357.2 680.3h0M1387.3 681.3h0M1393.6 682.5h0M1406.3 683.3h0M1413.5 684.5h0M1438.9 685.3h0M1448.4 686.5h0M1450.4 687.5h0M1455.4 688.8h0M1457.9 689.8h0M1355 707.5h0M1396.8 707.5h0M1473.3 712.7h0M1428.5 727.1h0M1421 731.4h0M1432.7 732.4h0M1446.2 733.4h0M1362.4 734.4h0M1359.2 737.9h0M1399.1 755.5h0M1461.9 754.6h0M1467.1 757.8h0M1475.3 755.8h0M1421.7 765h0M1423 767h0M1424.2 772.2h0M1394.8 788.9h0M1451.4 789.9h0M1470.1 799.4h0M1354 803.6h0M1394.8 820.3h0M1401.3 820.3h0M1439.9 828.6h0M1437.7 834h0M1365.4 854h0M1439.7 866.4h0M1405.3 928h0M1340 934.7h0M1475.3 924.8h0M1476.3 939.7h0M1441.7 941.7h0M1452.1 951.2h0M1467.1 955.7h0M1352 965.6h0M1421.7 967.6h0M1423 970.1h0M1433.4 969.1h0M1436.7 975.1h0M1480.3 982.8h0M1384.4 990h0M1395.8 986.6h0M1355 986.6h0M1401.1 1007.5h0M1395.8 1015h0M1412.5 1016h0M1456.4 1015h0M1342.5 1050.6h0M1454.4 1054.8h0M1419 1112.1h0" stroke-width="4.9"/>
<path d="M192.3 23.9L214.7 23.9M241 34.7L267.3 34.7M273.5 34.7L285.9 34.7M293.6 34.7h0M298.3 34.7L316.8 34.7M336.9 34.7L344.7 34.7M354.3 34.7h0M467.8 20.8L486.4 20.8M492.6 20.8L503.4 20.8M514.2 20.8L535.9 20.8M540.5 20.8L556 20.8M559.1 20.8L574.6 20.8M582.3 20.8L594.7 20.8M782.8 20.5L813.7 20.5M823 25.2L875.6 25.2M777.4 121.1L781.3 124.2M750.3 151.5L773.5 151.5M836.9 151.5L874.1 151.5M911.2 147.7L934.4 147.7M1049.8 110.5L1052.9 113.6M1140.3 140.7L1143.4 138.1M1046.7 147.7L1054.5 147.7M1144.2 147.7L1156.6 147.7M824.9 246.2L836.1 246.2M824.9 251.2L838.6 251.2M1193.7 511.6L1207.4 524.8M1261.6 511.6L1274.9 524.8M1181.2 242.5L1186.9 242.5M1090 357.4L1096.2 357.4M1057.5 406.2L1066.2 406.2M809.9 551.2L812.9 551.2M990 796.1L998.7 796.1M1012.5 796.1L1020 796.1M997.5 797.4L1006.2 797.4M1020 797.4L1028.2 797.4M1279.8 579.2L1288.6 580.7M1327.3 754.4L1331 754.4M1346 719.9L1349.8 716.4M1030 871.8L1034.9 871.8M1396.1 576.6h0M1399.1 577.4h0M1402.3 576.6h0M1407.3 576.6h0M1409.8 576.6h0M1345.5 719.9L1350 716.9M1406.8 754.6L1408.5 754.6M1412.3 788.9L1413.8 788.9M1449.6 799.4L1452.6 799.4M1410.3 840.3L1411.8 840.3M1406.8 850.7L1409.8 850.7M1033.7 915L1039.9 918.7L1047.4 921.2L1067.4 926.2L1077.4 930L1087.4 936.2M1097.9 937.5L1102.4 939.5M1106.2 941.2L1113.7 942.5L1119.9 951.2L1129.9 956.2L1134.9 957.9M1142.4 958.7L1149.9 963.7L1159.9 964.2M1164.9 965.4L1176.1 986.2L1189.9 989.2L1198.6 999.9L1207.4 1004.9M1212.4 1006.2L1219.9 1009.9L1229.9 1016.2M1289.8 1049.4L1298.6 1053.6L1306.1 1059.9M1318.6 1061.1L1326.1 1071.1L1339.8 1078.6L1350 1082.4M1077.4 914.5h0M1081.2 921.2h0M1088.4 925h0M1049.4 916.2h0M1139.4 914.5h0M1275.6 914.5h0M1188.9 928.2h0M1133.4 940.7h0M1216.9 943h0M1216.9 947h0M1227.4 947h0M1216.9 954.4h0M1243.3 939.5h0M1286.1 950h0M1282.8 956.4h0M1311.1 941.7h0M1314.1 940h0M1318.6 945h0M1339.3 934.5h0M1350 966.2h0M1154.9 959.2h0M1199.9 991.2h0M1206.9 992.9h0M1259.8 987.7h0M1290.1 979.4h0M1319.6 986.7h0M1332 975.2h0M1231.6 1004.7h0M1228.6 1009.9h0M1244.3 1014.9h0M1275.6 1010.2h0M1277.6 1013.9h0M1295.6 1014.9h0M1317.6 1014.9h0M1335.3 1020.2h0M1316.3 1054.9h0M1301.8 1051.1h0M1342.5 1050.4h0M1426 983.6L1428.5 983.6M1382.4 982.1L1386.1 982.1M1394.8 1054.8L1397.3 1054.8" stroke-width="5"/>
<path d="M586.2 591.2L596.2 598.7M982.5 737.7L991.2 737.7M1005 737.7L1013.7 737.7M1340 1078L1351.2 1083L1359.9 1088L1367.4 1094.2L1372.4 1101.7L1378.6 1112.9M1447.2 1144.8L1455.9 1146.5L1463.3 1152.8L1472.1 1155.3L1480.8 1159M1363.7 1083h0M1372.4 1090.5h0M1377.4 1091.7h0M1381.9 1091.7h0M1397.8 1120.4h0M1424.2 1134.1h0M1433.4 1135.3h0M1481.5 1145.3h0" stroke-width="5.2"/>
<path d="M990 875L1028.7 913.7M1235.3 1018.7L1242.3 1019.2L1246.1 1019.9L1260.3 1049.2M1262.3 1021.2L1274.8 1047.4" stroke-width="5.3"/>
<path d="M634.9 593.7L638.7 601.2L664.9 627.5L677.4 635L702.4 659.9L734.9 692.4L759.9 723.7L767.4 727.4L773.6 729.9L777.4 737.4L792.4 737.4L797.4 742.4L807.4 747.4L819.9 759.9L829.8 768.6L847.3 777.4M854.8 778.6L864.8 782.4L879.8 797.4L899.8 816.1L919.8 833.6L928.5 844.3M934.8 844.8L940 854.8M842.3 613.2L849.8 618.7L871.1 627M935 844.8L940 852.3L948.7 858.6L956.2 859.8L962.5 866.1L972.5 867.3L977.5 872.3L987.5 874.8L995 880.1" stroke-width="5.4"/>
<path d="M192.3 17.7L199.3 37.8L213.2 67.2L227.1 90.4L241 112.1L255 125.2L267.3 136.8L273.5 152.3L285.9 174L296.7 198.7L306 220.1M213.2 20.1L267.3 20.1M1116.3 140.7L1132.6 140.7M1085.4 147.7L1100.9 147.7M1094.7 151.5L1116.3 151.5M1166.1 186.8h0M1031.3 193h0M1285.9 20.8L1307.6 20.8M1244.9 113.2L1259.6 113.2M1274.3 140.7L1292.1 140.7M301.2 210L309.9 232.5L322.4 250L329.9 258.7L337.4 275L347.4 290L352.4 303.7L362.4 314.9L374.9 329.9L387.4 347.4L397.4 364.9L414.9 384.9L429.9 399.9L442.4 419.9L452.4 436.1L464.9 457.4L471.1 477.4L479.9 489.9L497.3 507.4L517.3 527.3L529.8 542.3L536.1 550.1M609.8 367.9h0M917.6 416.1h0M1193.7 419.6L1207.4 419.6M1261.1 419.6L1274.9 419.6M1062 473.6h0M1457.4 416h0M818.6 732.4L824.8 732.4M874.8 737.7L878.6 737.7M1481.5 1150.8h0" stroke-width="5.5"/>
<path d="M526.2 540L538.7 555L552.5 566.2L562.5 575L572.5 586.2" stroke-width="5.6"/>
<path d="M501.9 156.2L517.3 156.2M818.4 20.5L950 20.5M732.5 35.5L745.7 35.5M773.5 35.5L791.3 35.5M888 147.7L906.6 147.7M967.5 110.5h0M967.5 113.6h0M1148 140.7L1156.6 140.7M1147.3 151.5L1158.1 151.5M1101.6 195.6L1112.5 195.6M1148 195.6L1156.6 195.6M469.9 289.2L476.1 289.2M469.9 354.4L477.4 354.4M399.9 368.7h0M817.9 256.7h0M817.9 260.7h0M883.1 261.2h0M941.1 302.5h0M941.1 305h0M765.4 357.4h0M931.8 471.9h0M931.8 475.4h0M1167.9 289.2L1173.2 289.2M1167.9 354.9L1173.2 354.9M1157.4 237h0M1336.1 293.7h0M1351.1 303.7h0M1403.8 296.2h0M1055 419.9h0M1055 422.4h0M1108.7 526.8h0M1314.3 526.8h0M766.1 553.7h0M764.9 557.5h0M879.1 565.2h0M899.8 547.5L902.3 547.5M769.4 704.9h0M1041.2 640h0M1142.4 658.2h0M1301.8 669.2h0M1192.4 737.7L1207.4 737.7M1259.8 754.4L1276.1 754.4M953.7 564.2h0M955 566.7h0M1032.4 583.7h0M1032.4 587h0M1091.9 553.7h0M1091.2 557.5h0M1093.7 557.5h0M1347.3 553.7h0M1347.3 556.2h0M1045.2 743.6h0M1045.2 746.9h0M1114.9 936.7L1119.9 936.7" stroke-width="6"/>
<path d="M880.7 178.1h0M1290.1 251.2h0M1035 346.2L1042.5 346.2M1070 346.2L1076.2 346.2M1442.4 496.8L1446.1 496.8M1429.2 746.8L1432.7 745.8" stroke-width="6.5"/>
<path d="M477.1 112.9h0M732.5 151.5L744.9 151.5M732.5 155.7L744.9 155.7M1431.5 146.9h0M482.4 251.7h0M426.1 347.4h0M960.3 347.4h0M969.8 416.1h0M1441.1 246.2h0M1436.7 354.6h0M1460.6 387.3h0" stroke-width="7"/>
<path d="M357.1 141.2h0M347.8 183.2h0M572.3 148.4L584.6 148.4M940 21.6L1028.2 21.6M931.8 804.4h0M1223.4 736.9h0" stroke-width="8"/>
<path d="M1092.4 27.8h0M917.3 831.1h0" stroke-width="9"/></g>
<circle cx="356.3" cy="24.7" r="4" fill="#86a048"/>
<circle cx="424.3" cy="27.8" r="4" fill="#86a048"/>
<circle cx="373.8" cy="151.5" r="15.5" fill="#003c44"/>
<circle cx="373.8" cy="155.4" r="15.5" fill="#e02d00"/>
<circle cx="373.3" cy="23.9" r="15.5" fill="#e02d00"/>
<circle cx="443.7" cy="20.1" r="15.5" fill="#e02d00"/>
<circle cx="524.8" cy="24.7" r="3.6" fill="#86a048"/>
<circle cx="762.7" cy="25.5" r="3.8" fill="#86a048"/>
<circle cx="1090" cy="20.1" r="3.6" fill="#86a048"/>
<circle cx="1134.9" cy="18.5" r="3.6" fill="#86a048"/>
<circle cx="1151.9" cy="24.7" r="3.6" fill="#86a048"/>
<circle cx="1190.6" cy="20.1" r="15.5" fill="#e02d00"/>
<circle cx="1134.1" cy="149.2" r="4.2" fill="#86a048"/>
<circle cx="1367.9" cy="20.8" r="15.5" fill="#e69500"/>
<circle cx="1377.9" cy="20.8" r="15.5" fill="#e69500"/>
<circle cx="1373.3" cy="151.5" r="15" fill="#2b7fae"/>
<circle cx="1374.1" cy="156.2" r="15.5" fill="#e69500"/>
<circle cx="1428.2" cy="156.2" r="7" fill="#b0a81c"/>
<circle cx="1378.7" cy="187.9" r="12.5" fill="#e67800"/>
<circle cx="1381" cy="186.3" r="12.5" fill="#2b7fae"/>
<circle cx="1481.5" cy="19.2" r="14.8" fill="#e13a00"/>
<circle cx="1481.5" cy="23.8" r="14.8" fill="#14586a"/>
<circle cx="1481.5" cy="140" r="14.8" fill="#e13a00"/>
<circle cx="1481.5" cy="152.3" r="14.8" fill="#003c44"/>
<circle cx="1481.5" cy="195.8" r="14.8" fill="#e13a00"/>
<circle cx="374.2" cy="311.7" r="15.5" fill="#003c44"/>
<circle cx="442.9" cy="418.4" r="15.5" fill="#003c44"/>
<circle cx="442.9" cy="419.9" r="15.5" fill="#e02d00"/>
<circle cx="524.8" cy="347.4" r="5.5" fill="#b0a81c"/>
<circle cx="918.8" cy="246.2" r="4.5" fill="#b0a81c"/>
<circle cx="1189.9" cy="302.5" r="15.5" fill="#003c44"/>
<circle cx="1189.9" cy="304.2" r="15.5" fill="#e02d00"/>
<circle cx="1367.3" cy="303.7" r="13" fill="#2b7fae"/>
<circle cx="1364.8" cy="303.7" r="10" fill="#e69500"/>
<circle cx="1373.6" cy="308.7" r="15" fill="#2b7fae"/>
<circle cx="1379.8" cy="304.5" r="13.5" fill="#e67800"/>
<circle cx="1380.3" cy="304.5" r="12.8" fill="#e69500"/>
<circle cx="1364.3" cy="418.1" r="12.5" fill="#2b7fae"/>
<circle cx="1364.3" cy="419.4" r="12.5" fill="#e69500"/>
<circle cx="1436.7" cy="289.1" r="3.6" fill="#9ea827"/>
<circle cx="1211.9" cy="654.2" r="4.3" fill="#86a048"/>
<circle cx="1428" cy="564.9" r="6.2" fill="#6e9c5a"/>
<circle cx="1211.9" cy="940" r="4" fill="#b0a81c"/>
<circle cx="1379.1" cy="1112.1" r="12.5" fill="#1d6a92"/>
<g fill="none" stroke="#95a92c" stroke-linecap="round" stroke-linejoin="round"><path d="M1481.5 34.6h0M1481.5 198.9h0" stroke-width="1.5"/>
<path d="M1481.5 26.2h0M1481.5 156.2h0" stroke-width="2.5"/>
<path d="M1359.4 151.5L1366.3 151.5M374.9 311.9h0" stroke-width="3.5"/>
<path d="M1195.2 20.1L1200 20.1" stroke-width="4"/>
<path d="M1382.6 186.3L1386.4 186.3M443.6 421.1L452.4 436.1L464.9 457.4M1386.6 296.2h0" stroke-width="4.5"/>
<path d="M375.6 23.9h0M377.9 21.6h0M381.8 21.6h0M378.7 26.2h0M383.3 24.7h0M446 21.6h0M447.5 25.5h0M376.4 151.5h0M378.7 148.4h0M381.8 147.7h0M377.2 140.7h0M383.3 140.7h0M1191.4 23.9h0M1194.4 21.6h0" stroke-width="4.9"/>
<path d="M1378.6 1112.9L1391.1 1122.9L1402.3 1127.8L1414.8 1135.3L1426 1139.1L1437.2 1144" stroke-width="5.2"/></g>
<g font-family="'Liberation Sans', Arial, Helvetica, sans-serif" fill="#000">
<text transform="translate(190.8 1224.6) scale(1.025 1.08)" font-size="48" text-anchor="middle">0</text>
<text transform="translate(400.0 1224.6) scale(1.025 1.08)" font-size="48" text-anchor="middle">200</text>
<text transform="translate(609.1 1224.6) scale(1.025 1.08)" font-size="48" text-anchor="middle">400</text>
<text transform="translate(818.3 1224.6) scale(1.025 1.08)" font-size="48" text-anchor="middle">600</text>
<text transform="translate(1027.4 1224.6) scale(1.025 1.08)" font-size="48" text-anchor="middle">800</text>
<text transform="translate(1236.6 1224.6) scale(1.025 1.08)" font-size="48" text-anchor="middle">1000</text>
<text transform="translate(1445.8 1224.6) scale(1.025 1.08)" font-size="48" text-anchor="middle">1200</text>
<text transform="translate(172.8 36.4) scale(1.0 1.06)" font-size="48" text-anchor="end">0</text>
<text transform="translate(172.8 141.0) scale(1.0 1.06)" font-size="48" text-anchor="end">100</text>
<text transform="translate(172.8 245.7) scale(1.0 1.06)" font-size="48" text-anchor="end">200</text>
<text transform="translate(172.8 350.3) scale(1.0 1.06)" font-size="48" text-anchor="end">300</text>
<text transform="translate(172.8 454.9) scale(1.0 1.06)" font-size="48" text-anchor="end">400</text>
<text transform="translate(172.8 559.5) scale(1.0 1.06)" font-size="48" text-anchor="end">500</text>
<text transform="translate(172.8 664.2) scale(1.0 1.06)" font-size="48" text-anchor="end">600</text>
<text transform="translate(172.8 768.8) scale(1.0 1.06)" font-size="48" text-anchor="end">700</text>
<text transform="translate(172.8 873.4) scale(1.0 1.06)" font-size="48" text-anchor="end">800</text>
<text transform="translate(172.8 978.1) scale(1.0 1.06)" font-size="48" text-anchor="end">900</text>
<text transform="translate(172.8 1082.7) scale(1.0 1.06)" font-size="48" text-anchor="end">1000</text>
<text transform="translate(1619 1111.8) scale(0.99 1.055)" font-size="42">-40</text>
<text transform="translate(1619 984.8) scale(0.99 1.055)" font-size="42">-30</text>
<text transform="translate(1619 857.8) scale(0.99 1.055)" font-size="42">-20</text>
<text transform="translate(1619 730.8) scale(0.99 1.055)" font-size="42">-10</text>
<text transform="translate(1619 603.8) scale(0.99 1.055)" font-size="42">0</text>
<text transform="translate(1619 476.8) scale(0.99 1.055)" font-size="42">10</text>
<text transform="translate(1619 349.8) scale(0.99 1.055)" font-size="42">20</text>
<text transform="translate(1619 222.8) scale(0.99 1.055)" font-size="42">30</text>
<text transform="translate(1619 95.8) scale(0.99 1.055)" font-size="42">40</text>
<text transform="translate(834.2 1288.3) scale(1.009 1.03)" font-size="53" text-anchor="middle">Number of columns (reactions)</text>
<text transform="translate(840.6 1354.5) scale(1.008 1.03)" font-size="53" text-anchor="middle">(5357 nonzero elements)</text>
<text transform="translate(42.5 591.4) rotate(-90) scale(1.0085 1.03)" font-size="53" text-anchor="middle">Number of rows (metabolites)</text>
</g>
</svg>
</body></html>
